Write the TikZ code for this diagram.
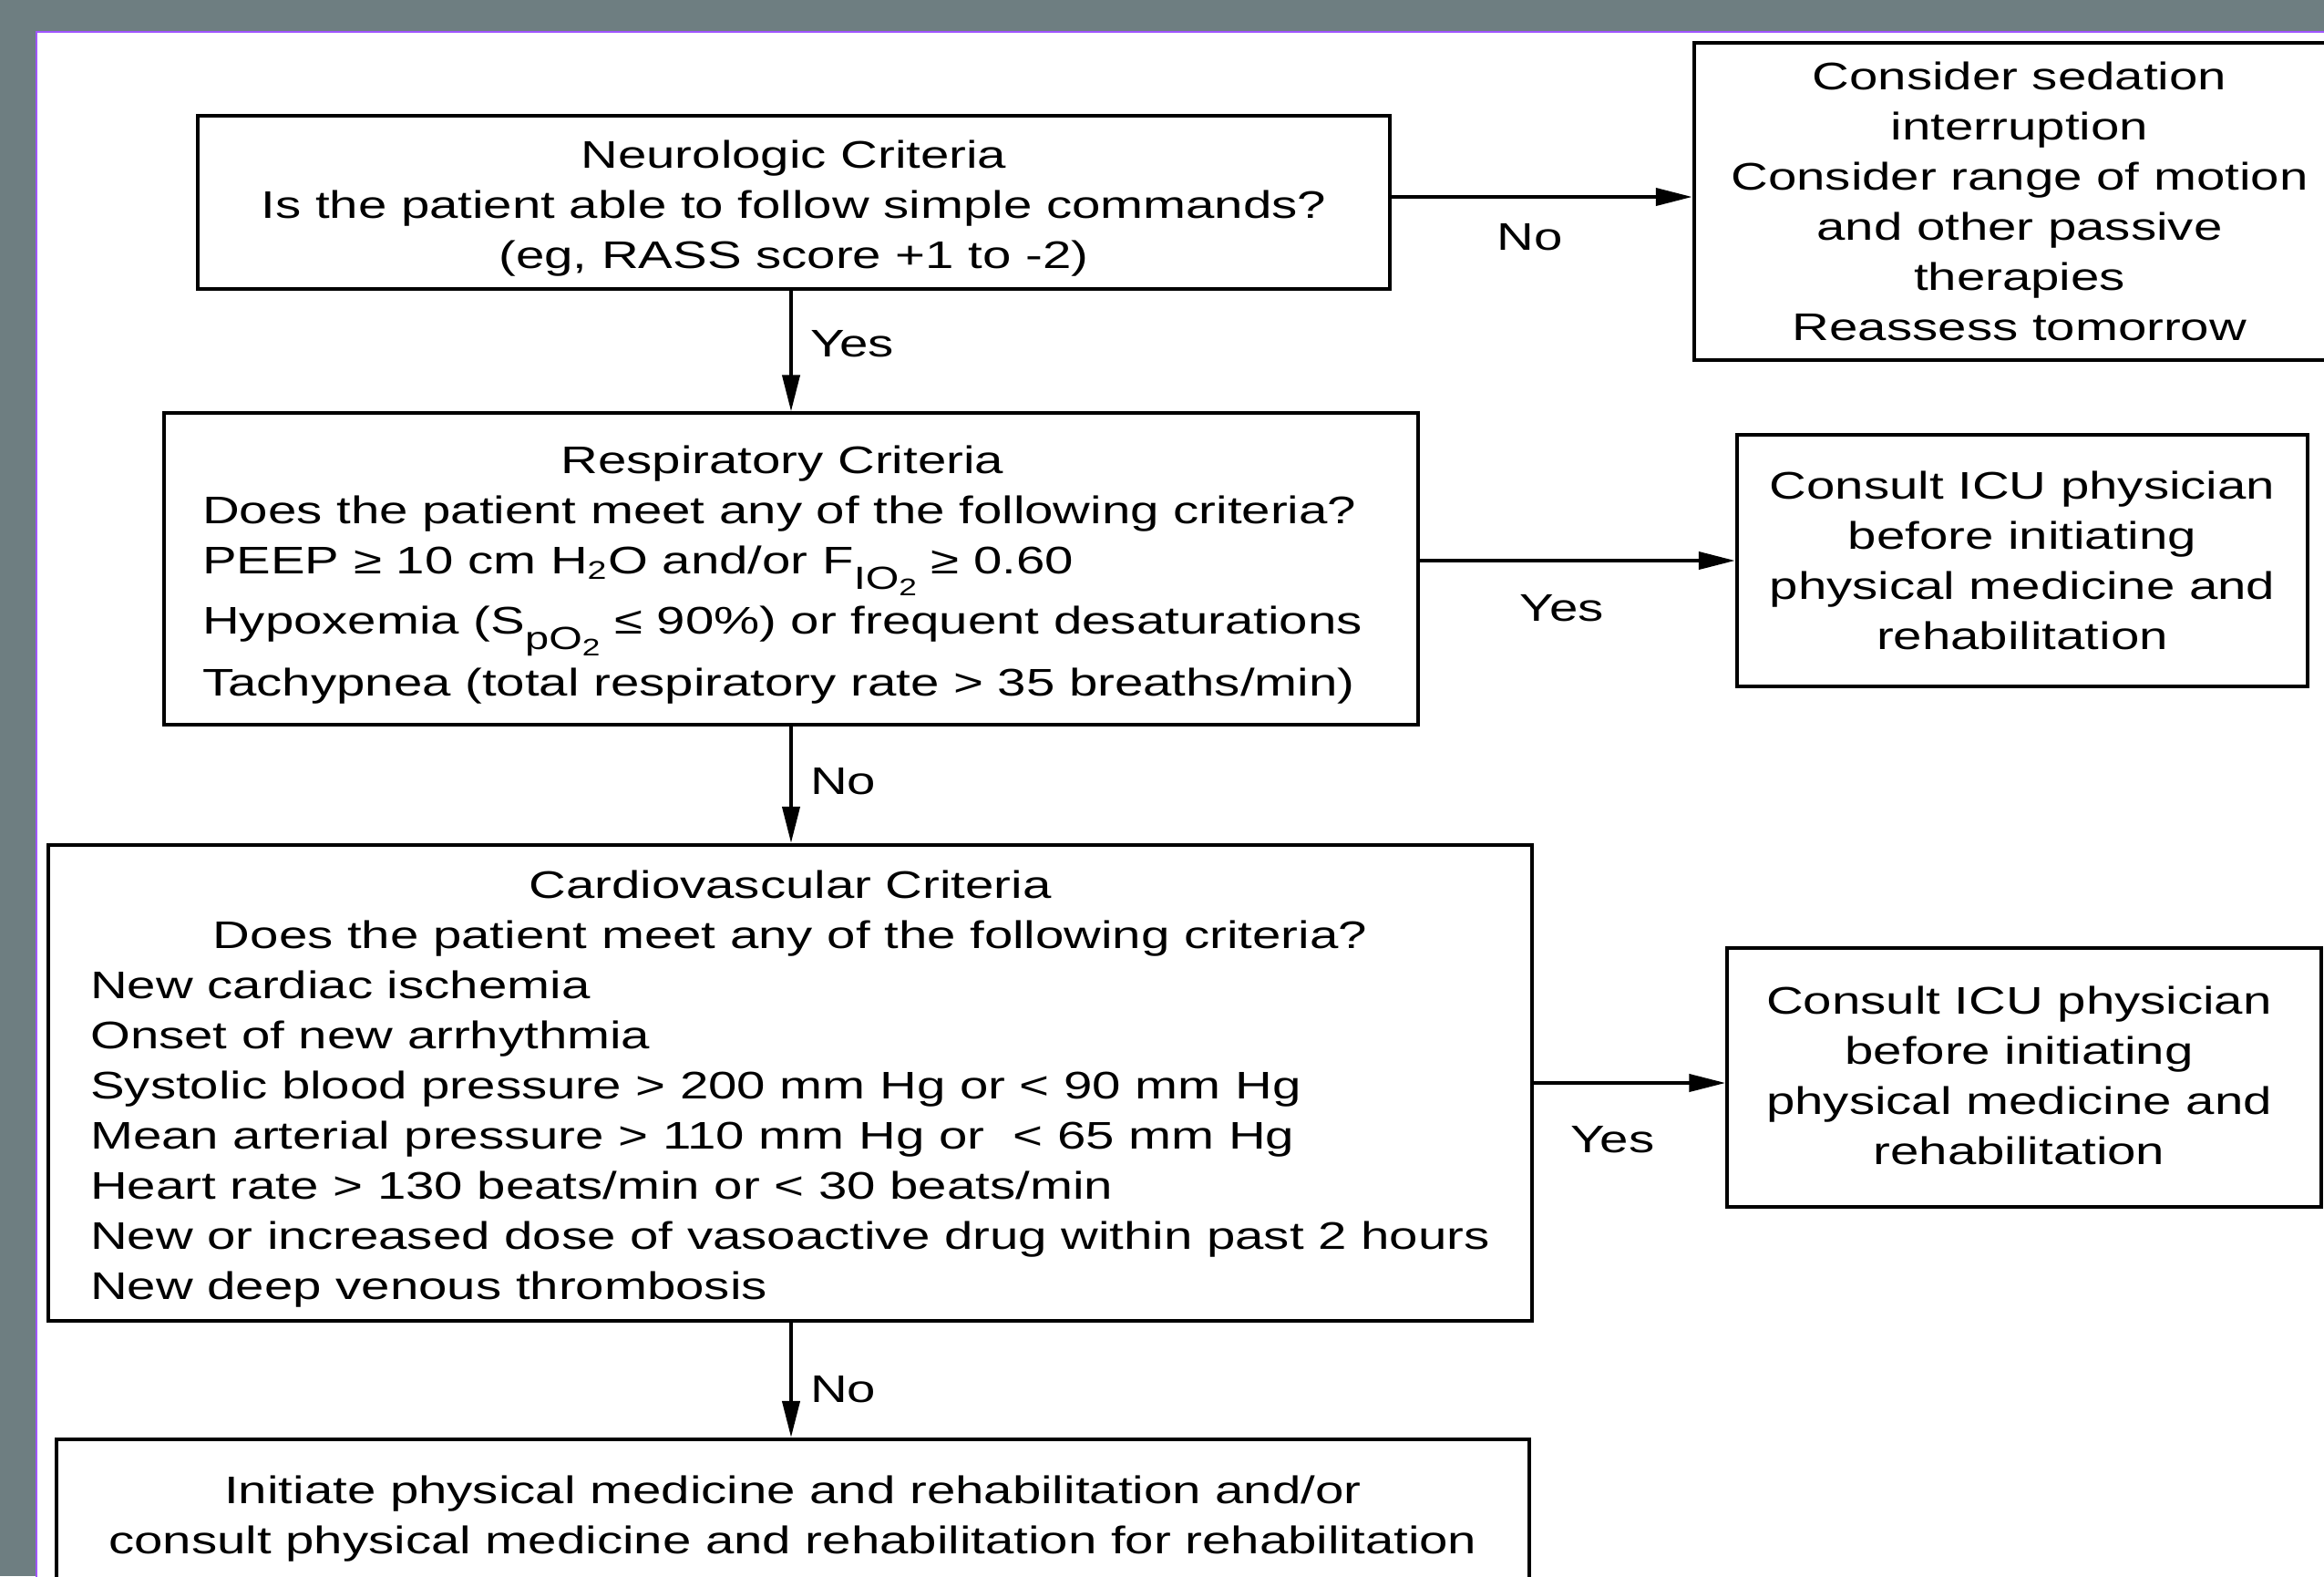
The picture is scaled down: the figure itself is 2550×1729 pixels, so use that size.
\documentclass[tikz,border=0pt]{standalone}
\usepackage{fontspec}
\setmainfont{Liberation Sans}[FakeStretch=1.336]
\usetikzlibrary{arrows.meta, positioning}
\definecolor{cslate}{HTML}{6E7E81}
\definecolor{cviolet}{HTML}{A055FF}
\tikzset{
  every picture/.style={line width=0.04cm},
  box/.style={draw=black, fill=white, inner sep=0pt, align=center, font=\fontsize{12pt}{15.65pt}\selectfont},
  arrow/.style={-{Triangle[length=0.4cm, width=0.19cm]}, draw=black, line width=0.04cm},
  lbl/.style={font=\fontsize{12pt}{15.65pt}\selectfont, inner sep=2pt},
}
% lines of a box, set a little lower than the box centre
\newcommand{\boxlines}[3][0.065cm]{\raisebox{-#1}[\height][\depth]{\begin{tabular}{@{}#2@{}}#3\end{tabular}}}
% gas subscript, eg F_IO2
\newcommand{\gassub}[2]{\raisebox{-0.17cm}[0pt][0pt]{\fontsize{10pt}{11pt}\selectfont #1\raisebox{-0.07cm}{\fontsize{7.5pt}{8pt}\selectfont #2}}}

\begin{document}
\begin{tikzpicture}[x=0.01cm, y=-0.01cm]
  \useasboundingbox (0,0) rectangle (2550,1729);
  % slide backdrop
  \fill[cslate] (0,0) rectangle (2550,1729);
  \draw[cviolet, line width=0.02cm, fill=white] (40,35) rectangle (2600,1800);
  % main column
  \node[box, minimum width=13.07cm, minimum height=1.89cm] (neuro) at (871,222) {\boxlines{c}{
    Neurologic Criteria\\Is the patient able to follow simple commands?\\(eg, RASS score +1 to -2)}};
  \node[box, minimum width=13.76cm, minimum height=3.41cm] (resp) at (868,624) {\hspace*{-0.19cm}\boxlines{l}{
    \multicolumn{1}{@{}c@{}}{Respiratory Criteria}\\
    Does the patient meet any of the following criteria?\\
    PEEP ≥ 10 cm H\textsubscript{2}O and/or F\gassub{IO}{2} ≥ 0.60\\[0.11cm]
    Hypoxemia (S\gassub{pO}{2} ≤ 90\%) or frequent desaturations\\[0.13cm]
    Tachypnea (total respiratory rate > 35 breaths/min)}};
  \node[box, minimum width=16.27cm, minimum height=5.22cm] (cardio) at (867,1188) {\boxlines{l}{
    \multicolumn{1}{@{}c@{}}{Cardiovascular Criteria}\\
    \multicolumn{1}{@{}c@{}}{Does the patient meet any of the following criteria?}\\
    New cardiac ischemia\\
    Onset of new arrhythmia\\
    Systolic blood pressure > 200 mm Hg or < 90 mm Hg\\
    Mean arterial pressure > 110 mm Hg or \ < 65 mm Hg\\
    Heart rate > 130 beats/min or < 30 beats/min\\
    New or increased dose of vasoactive drug within past 2 hours\\
    New deep venous thrombosis}};
  \node[box, minimum width=16.16cm, minimum height=1.66cm] (rehab) at (870,1662) {\boxlines[0.035cm]{c}{
    Initiate physical medicine and rehabilitation and/or\\consult physical medicine and rehabilitation for rehabilitation}};
  % side column
  \node[box, minimum width=7.14cm, minimum height=3.48cm] (sedation) at (2216,221)
    {Consider sedation\\interruption\\Consider range of motion\\and other passive\\therapies\\Reassess tomorrow};
  \node[box, minimum width=6.26cm, minimum height=2.75cm] (consultR) at (2219,615)
    {Consult ICU physician\\before initiating\\physical medicine and\\rehabilitation};
  \node[box, minimum width=6.51cm, minimum height=2.83cm] (consultC) at (2221,1182) {\hspace*{-0.11cm}\boxlines[0.02cm]{c}{
    Consult ICU physician\\before initiating\\physical medicine and\\rehabilitation}};
  % connectors
  \draw[arrow] ([yshift=0.06cm]neuro.east) -- ([yshift=0.06cm]neuro.east -| sedation.west)
    node[lbl, pos=0.46, yshift=-0.44cm] (noNeuro) {No};
  \draw[arrow] (resp.north |- neuro.south) -- (resp.north)
    node[lbl, pos=0.44, right=0.12cm] (yesNeuro) {Yes};
  \draw[arrow] (consultR.west -| resp.east) -- (consultR.west)
    node[lbl, pos=0.45, yshift=-0.52cm] (yesResp) {Yes};
  \draw[arrow] (resp.south) -- (resp.south |- cardio.north)
    node[lbl, pos=0.47, right=0.12cm] (noResp) {No};
  \draw[arrow] (cardio.east) -- (cardio.east -| consultC.west)
    node[lbl, pos=0.41, yshift=-0.62cm] (yesCardio) {Yes};
  \draw[arrow] (resp.south |- cardio.south) -- (resp.south |- rehab.north)
    node[lbl, pos=0.58, right=0.12cm] (noCardio) {No};
\end{tikzpicture}
\end{document}
